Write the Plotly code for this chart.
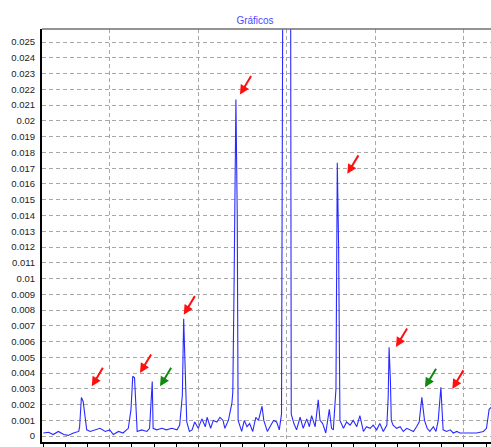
import plotly.graph_objects as go

# ---- data ----
sample = [0, 6, 11, 17, 23, 28, 34, 40, 41, 43, 45, 47, 49, 53, 58, 64, 70, 75, 79, 85,
          90, 96, 99, 101, 103, 105, 106, 111, 117, 120, 123, 124, 128, 134, 139, 145,
          151, 154, 157, 158.5, 160, 162, 165, 168, 171, 175, 179, 183, 185, 189, 192,
          196, 199.5, 203, 205, 209, 213, 214, 215.5, 217.5, 219, 220, 224, 227, 230,
          233, 236.5, 240, 243, 247, 249, 253, 256, 260, 263.5, 266.5, 269, 271, 275,
          279, 280, 283, 286, 290, 293.5, 297.5, 300.5, 303, 307, 310.5, 312.5, 315.5,
          319, 323, 325.5, 327.5, 330.5, 332, 333.5, 335, 339, 342.5, 346.5, 350, 354,
          357.5, 361.5, 365, 369, 372.5, 376.5, 380, 384, 388, 389.5, 390.5, 392, 393,
          395, 399, 403, 406.5, 410.5, 414, 418, 421.5, 424.5, 427.5, 430.5, 433.5,
          436.5, 440.5, 443.5, 446, 449, 451.5, 455.5, 459.5, 463, 467, 470.5, 474.5,
          482, 489.5, 497, 500.5, 503.5, 507]

amplitude = [0.00020, 0.00025, 0.00010, 0.00030, 0.00010, 0.00005, 0.00020, 0.00030,
             0.00060, 0.00245, 0.00220, 0.00120, 0.00040, 0.00030, 0.00040, 0.00050,
             0.00030, 0.00040, 0.00010, 0.00030, 0.00020, 0.00050, 0.00170, 0.00380,
             0.00370, 0.00160, 0.00030, 0.00040, 0.00030, 0.00050, 0.00347, 0.00050,
             0.00040, 0.00050, 0.00040, 0.00050, 0.00040, 0.00070, 0.00260, 0.00745,
             0.00470, 0.00090, 0.00030, 0.00040, 0.00090, 0.00050, 0.00110, 0.00060,
             0.00120, 0.00050, 0.00100, 0.00090, 0.00120, 0.00100, 0.00050, 0.00100,
             0.00210, 0.00280, 0.01000, 0.02135, 0.01400, 0.00100, 0.00030, 0.00100,
             0.00060, 0.00080, 0.00030, 0.00120, 0.00100, 0.00190, 0.00100, 0.00030,
             0.00060, 0.00100, 0.00090, 0.00040, 0.00140, 0.04000, 0.04500, 0.04000,
             0.00140, 0.00080, 0.00040, 0.00120, 0.00050, 0.00110, 0.00060, 0.00130,
             0.00060, 0.00230, 0.00100, 0.00080, 0.00020, 0.00170, 0.00050, 0.00040,
             0.00300, 0.01735, 0.01200, 0.00100, 0.00050, 0.00090, 0.00070, 0.00100,
             0.00060, 0.00130, 0.00030, 0.00060, 0.00050, 0.00070, 0.00040, 0.00080,
             0.00030, 0.00070, 0.00250, 0.00564, 0.00350, 0.00100, 0.00070, 0.00050,
             0.00060, 0.00030, 0.00050, 0.00040, 0.00030, 0.00060, 0.00090, 0.00246,
             0.00100, 0.00050, 0.00030, 0.00060, 0.00030, 0.00100, 0.00310, 0.00040,
             0.00030, 0.00040, 0.00020, 0.00030, 0.00020, 0.00020, 0.00020, 0.00020,
             0.00030, 0.00050, 0.00170, 0.00190]

y_tick_values = [round(i * 0.001, 3) for i in range(26)]
y_tick_labels = [f"{v:g}" for v in y_tick_values]
x_grid_values = [75, 175, 275, 375, 475]
x_minor_values = list(range(0, 506, 25))

# arrow heads (data coords) and colours
arrow_x = [54.7, 109.2, 131.8, 158.6, 222.1, 343.3, 398.3, 431.0, 461.9]
arrow_y = [0.00316, 0.00401, 0.00316, 0.00771, 0.02167, 0.01664, 0.00566, 0.00310, 0.00300]
arrow_color = ["red", "red", "green", "red", "red", "red", "red", "green", "red"]

COLORS = {"red": "#ff1010", "green": "#118a11"}

fig = go.Figure()
fig.add_trace(go.Scatter(x=sample, y=amplitude, mode="lines",
                         line=dict(color="#2a2aff", width=1.1),
                         showlegend=False, hoverinfo="skip"))

for ax_, ay_, c in zip(arrow_x, arrow_y, arrow_color):
    fig.add_annotation(x=ax_, y=ay_, xref="x", yref="y", ax=12, ay=-20,
                       showarrow=True, arrowhead=2, arrowsize=0.95, arrowwidth=2,
                       arrowcolor=COLORS[c], text="", standoff=0)

grid_dash = "4px,3px"
fig.update_layout(
    width=491, height=447, autosize=False,
    margin=dict(l=42, r=0, t=29, b=5),
    paper_bgcolor="white", plot_bgcolor="white",
    title=dict(text="Gráficos", x=255 / 491, xref="container", xanchor="center",
               y=1 - 20 / 447, yref="container", yanchor="middle",
               font=dict(family="Liberation Sans, Arial", size=10, color="#4a4aff")),
    font=dict(family="Liberation Sans, Arial", size=9.5, color="#222222"),
    xaxis=dict(range=[-1.5, 505.6], tickmode="array", tickvals=x_grid_values,
               showticklabels=False, ticks="outside", ticklen=3, tickcolor="black",
               showgrid=True, gridcolor="#a8a8a8", gridwidth=1, griddash=grid_dash,
               zeroline=False, showline=True, linecolor="black", linewidth=2,
               minor=dict(tickmode="array", tickvals=x_minor_values, ticks="outside",
                          ticklen=3, tickcolor="black", showgrid=False)),
    yaxis=dict(range=[-0.00037, 0.02583], tickmode="array", tickvals=y_tick_values,
               ticktext=y_tick_labels, ticks="", ticklabelstandoff=3,
               showgrid=True, gridcolor="#a8a8a8", gridwidth=1, griddash=grid_dash,
               zeroline=False, showline=True, linecolor="black", linewidth=2),
)

fig.add_shape(type="line", xref="paper", yref="paper", x0=0, x1=1, y0=1, y1=1,
              line=dict(color="#707070", width=1.5))

fig.write_html("out.html")
